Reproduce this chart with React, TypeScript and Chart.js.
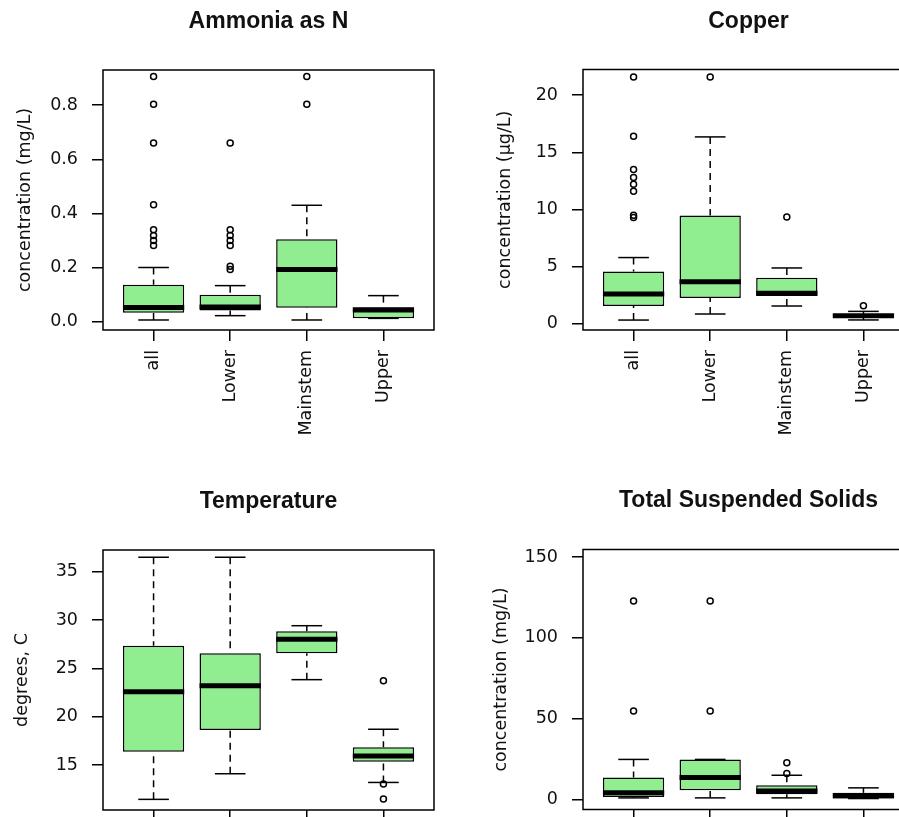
import React, { useEffect, useRef } from 'react';
import { Chart, registerables } from 'chart.js';

Chart.register(...registerables);

const categories = ['all', 'Lower', 'Mainstem', 'Upper'];

// Ammonia as N (mg/L)
const ammoniaLowerWhisker = [0.006, 0.022, 0.006, 0.012];
const ammoniaQ1 = [0.033, 0.041, 0.051, 0.012];
const ammoniaMedian = [0.052, 0.054, 0.193, 0.043];
const ammoniaQ3 = [0.136, 0.099, 0.304, 0.053];
const ammoniaUpperWhisker = [0.2, 0.133, 0.43, 0.096];
const ammoniaOutliers = [
  [0.906, 0.803, 0.66, 0.432, 0.34, 0.318, 0.3, 0.281],
  [0.66, 0.34, 0.318, 0.3, 0.281, 0.205, 0.193],
  [0.906, 0.803],
  [],
];
const ammoniaTicks = [0, 0.2, 0.4, 0.6, 0.8];

// Copper (µg/L)
const copperLowerWhisker = [0.32, 0.85, 1.55, 0.33];
const copperQ1 = [1.55, 2.25, 2.43, 0.55];
const copperMedian = [2.6, 3.68, 2.66, 0.7];
const copperQ3 = [4.56, 9.47, 4.03, 0.85];
const copperUpperWhisker = [5.79, 16.35, 4.88, 1.08];
const copperOutliers = [
  [21.6, 16.4, 13.5, 12.8, 12.2, 11.6, 9.5, 9.3],
  [21.6],
  [9.33],
  [1.58],
];
const copperTicks = [0, 5, 10, 15, 20];

// Temperature (degrees C)
const temperatureLowerWhisker = [11.45, 14.1, 23.83, 13.2];
const temperatureQ1 = [16.38, 18.62, 26.56, 15.35];
const temperatureMedian = [22.59, 23.21, 28.0, 15.93];
const temperatureQ3 = [27.35, 26.56, 28.83, 16.83];
const temperatureUpperWhisker = [36.49, 36.49, 29.41, 18.7];
const temperatureOutliers = [[], [], [], [23.72, 13.05, 11.48]];
const temperatureTicks = [15, 20, 25, 30, 35];

// Total Suspended Solids (mg/L)
const tssLowerWhisker = [1.0, 1.0, 1.0, 0.6];
const tssQ1 = [1.6, 5.76, 3.28, 0.6];
const tssMedian = [4.2, 13.6, 5.3, 2.3];
const tssQ3 = [13.6, 24.8, 8.85, 4.1];
const tssUpperWhisker = [24.8, 24.8, 15.0, 7.2];
const tssOutliers = [[122.9, 54.8], [122.9, 54.8], [22.7, 16.1], []];
const tssTicks = [0, 50, 100, 150];

type Stats = { lw: number[]; q1: number[]; med: number[]; q3: number[]; uw: number[]; out: number[][] };

type Spec = {
  title: string;
  ylabel: string;
  stats: Stats;
  ticks: number[];
  fmt: (v: number) => string;
  yMin: number;
  yMax: number;
  left: number;
  top: number;
  w: number;
  h: number;
  axisW: number;
  chartRight: number;
  chartBottom: number;
  titleMid: number;
  chartTop: number;
  ytitleCenter: number;
};

const AXIS_FONT = { family: "'DejaVu Sans', sans-serif", size: 17.5, lineHeight: 1.2 };
const TITLE_FONT = { family: "'Liberation Sans', Arial, sans-serif", size: 23, weight: 'bold' as const, lineHeight: 1.2 };
const TEXT_COLOR = '#111';
const BOX_FILL = '#90EE90';

const panels: Spec[] = [
  {
    title: 'Ammonia as N',
    ylabel: 'concentration (mg/L)',
    stats: { lw: ammoniaLowerWhisker, q1: ammoniaQ1, med: ammoniaMedian, q3: ammoniaQ3, uw: ammoniaUpperWhisker, out: ammoniaOutliers },
    ticks: ammoniaTicks,
    fmt: (v) => v.toFixed(1),
    yMin: -0.031,
    yMax: 0.93,
    left: 0, top: 0, w: 450, h: 460,
    axisW: 103, chartRight: 434, chartBottom: 330, titleMid: 22, chartTop: 70, ytitleCenter: 25.5,
  },
  {
    title: 'Copper',
    ylabel: 'concentration (µg/L)',
    stats: { lw: copperLowerWhisker, q1: copperQ1, med: copperMedian, q3: copperQ3, uw: copperUpperWhisker, out: copperOutliers },
    ticks: copperTicks,
    fmt: (v) => String(v),
    yMin: -0.55,
    yMax: 22.25,
    left: 450, top: 0, w: 480, h: 460,
    axisW: 133, chartRight: 464, chartBottom: 330, titleMid: 22, chartTop: 69.5, ytitleCenter: 55,
  },
  {
    title: 'Temperature',
    ylabel: 'degrees, C',
    stats: { lw: temperatureLowerWhisker, q1: temperatureQ1, med: temperatureMedian, q3: temperatureQ3, uw: temperatureUpperWhisker, out: temperatureOutliers },
    ticks: temperatureTicks,
    fmt: (v) => String(v),
    yMin: 10.35,
    yMax: 37.24,
    left: 0, top: 420, w: 450, h: 500,
    axisW: 103, chartRight: 434, chartBottom: 390, titleMid: 82, chartTop: 130, ytitleCenter: 22,
  },
  {
    title: 'Total Suspended Solids',
    ylabel: 'concentration (mg/L)',
    stats: { lw: tssLowerWhisker, q1: tssQ1, med: tssMedian, q3: tssQ3, uw: tssUpperWhisker, out: tssOutliers },
    ticks: tssTicks,
    fmt: (v) => String(v),
    yMin: -6.19,
    yMax: 154.7,
    left: 450, top: 420, w: 480, h: 500,
    axisW: 133, chartRight: 464, chartBottom: 389.5, titleMid: 81, chartTop: 129.5, ytitleCenter: 51,
  },
];

function decorPlugin(s: Stats) {
  return {
    id: 'boxDecor',
    beforeDatasetsDraw(chart: any) {
      const { ctx } = chart;
      const x = chart.scales.x;
      const y = chart.scales.y;
      ctx.save();
      ctx.strokeStyle = '#000';
      ctx.lineWidth = 1.5;
      ctx.lineCap = 'butt';
      const seg = (x1: number, y1: number, x2: number, y2: number) => {
        ctx.beginPath();
        ctx.moveTo(x1, y1);
        ctx.lineTo(x2, y2);
        ctx.stroke();
      };
      s.med.forEach((_, i) => {
        const cx = x.getPixelForValue(i + 1);
        const capL = x.getPixelForValue(i + 1 - 0.2);
        const capR = x.getPixelForValue(i + 1 + 0.2);
        const yuw = y.getPixelForValue(s.uw[i]);
        const ylw = y.getPixelForValue(s.lw[i]);
        const yq1 = y.getPixelForValue(s.q1[i]);
        const yq3 = y.getPixelForValue(s.q3[i]);
        ctx.setLineDash([7, 5]);
        seg(cx, yuw, cx, yq3);
        seg(cx, ylw, cx, yq1);
        ctx.setLineDash([]);
        seg(capL, yuw, capR, yuw);
        seg(capL, ylw, capR, ylw);
      });
      ctx.restore();
    },
    afterDatasetsDraw(chart: any) {
      const { ctx } = chart;
      const x = chart.scales.x;
      const y = chart.scales.y;
      ctx.save();
      ctx.strokeStyle = '#000';
      ctx.lineWidth = 5;
      ctx.lineCap = 'butt';
      s.med.forEach((m, i) => {
        const l = x.getPixelForValue(i + 1 - 0.4);
        const r = x.getPixelForValue(i + 1 + 0.4);
        const ym = y.getPixelForValue(m);
        ctx.beginPath();
        ctx.moveTo(l, ym);
        ctx.lineTo(r, ym);
        ctx.stroke();
      });
      ctx.restore();
    },
    afterDraw(chart: any) {
      const { ctx, chartArea } = chart;
      ctx.save();
      ctx.strokeStyle = '#000';
      ctx.lineWidth = 1.5;
      ctx.strokeRect(chartArea.left, chartArea.top, chartArea.right - chartArea.left, chartArea.bottom - chartArea.top);
      ctx.restore();
    },
  };
}

function buildConfig(p: Spec): any {
  const s = p.stats;
  const titleLine = TITLE_FONT.size * TITLE_FONT.lineHeight;
  const titlePadTop = p.titleMid - titleLine / 2;
  const titlePadBottom = p.chartTop - titlePadTop - titleLine;
  const axisLine = AXIS_FONT.size * AXIS_FONT.lineHeight;
  return {
    type: 'bar',
    data: {
      datasets: [
        {
          type: 'bar',
          data: categories.map((_, i) => ({ x: i + 1, y: [s.q1[i], s.q3[i]] })),
          backgroundColor: BOX_FILL,
          borderColor: '#000',
          borderWidth: 1.5,
          borderSkipped: false,
          categoryPercentage: 1,
          barPercentage: 0.8,
        },
        {
          type: 'scatter',
          data: s.out.flatMap((arr, i) => arr.map((v) => ({ x: i + 1, y: v }))),
          showLine: false,
          pointStyle: 'circle',
          pointRadius: 3,
          pointBorderWidth: 1.5,
          pointBorderColor: '#000',
          pointBackgroundColor: 'rgba(0,0,0,0)',
        },
      ],
    },
    options: {
      animation: false,
      responsive: false,
      devicePixelRatio: 1,
      events: [],
      layout: { padding: { left: 0, top: 0, right: p.w - p.chartRight, bottom: 0 } },
      plugins: {
        legend: { display: false },
        tooltip: { enabled: false },
        title: {
          display: true,
          text: p.title,
          font: TITLE_FONT,
          color: TEXT_COLOR,
          fullSize: false,
          padding: { top: titlePadTop, bottom: titlePadBottom },
        },
      },
      scales: {
        x: {
          type: 'linear',
          min: 0.34,
          max: 4.66,
          offset: false,
          afterBuildTicks: (sc: any) => {
            sc.ticks = categories.map((_, i) => ({ value: i + 1 }));
          },
          afterFit: (sc: any) => {
            sc.height = p.h - p.chartBottom;
          },
          ticks: {
            autoSkip: false,
            minRotation: 90,
            maxRotation: 90,
            padding: 9,
            font: AXIS_FONT,
            color: TEXT_COLOR,
            callback: (v: number) => categories[Math.round(v) - 1],
          },
          grid: { offset: false, drawOnChartArea: false, drawTicks: true, tickLength: 11, color: '#000', lineWidth: 1.5 },
          border: { display: false },
        },
        y: {
          type: 'linear',
          min: p.yMin,
          max: p.yMax,
          afterBuildTicks: (sc: any) => {
            sc.ticks = p.ticks.map((v) => ({ value: v }));
          },
          afterFit: (sc: any) => {
            sc.width = p.axisW;
          },
          ticks: {
            padding: 14,
            font: AXIS_FONT,
            color: TEXT_COLOR,
            callback: (v: number) => p.fmt(v),
          },
          grid: { drawOnChartArea: false, drawTicks: true, tickLength: 11, color: '#000', lineWidth: 1.5 },
          border: { display: false },
          title: {
            display: true,
            text: p.ylabel,
            font: AXIS_FONT,
            color: TEXT_COLOR,
            padding: { top: p.ytitleCenter - axisLine / 2, bottom: 0 },
          },
        },
      },
    },
    plugins: [decorPlugin(s)],
  };
}

function BoxPanel({ spec }: { spec: Spec }) {
  const ref = useRef<HTMLCanvasElement>(null);
  useEffect(() => {
    if (!ref.current) return;
    const chart = new Chart(ref.current, buildConfig(spec));
    return () => chart.destroy();
  }, [spec]);
  return (
    <canvas
      ref={ref}
      width={spec.w}
      height={spec.h}
      style={{ position: 'absolute', left: spec.left, top: spec.top, width: spec.w, height: spec.h, display: 'block' }}
    />
  );
}

export default function App() {
  return (
    <div
      style={{
        position: 'fixed',
        left: 0,
        top: 0,
        width: 899,
        height: 817,
        overflow: 'hidden',
        background: '#fff',
      }}
    >
      {panels.map((p) => (
        <BoxPanel key={p.title} spec={p} />
      ))}
    </div>
  );
}
